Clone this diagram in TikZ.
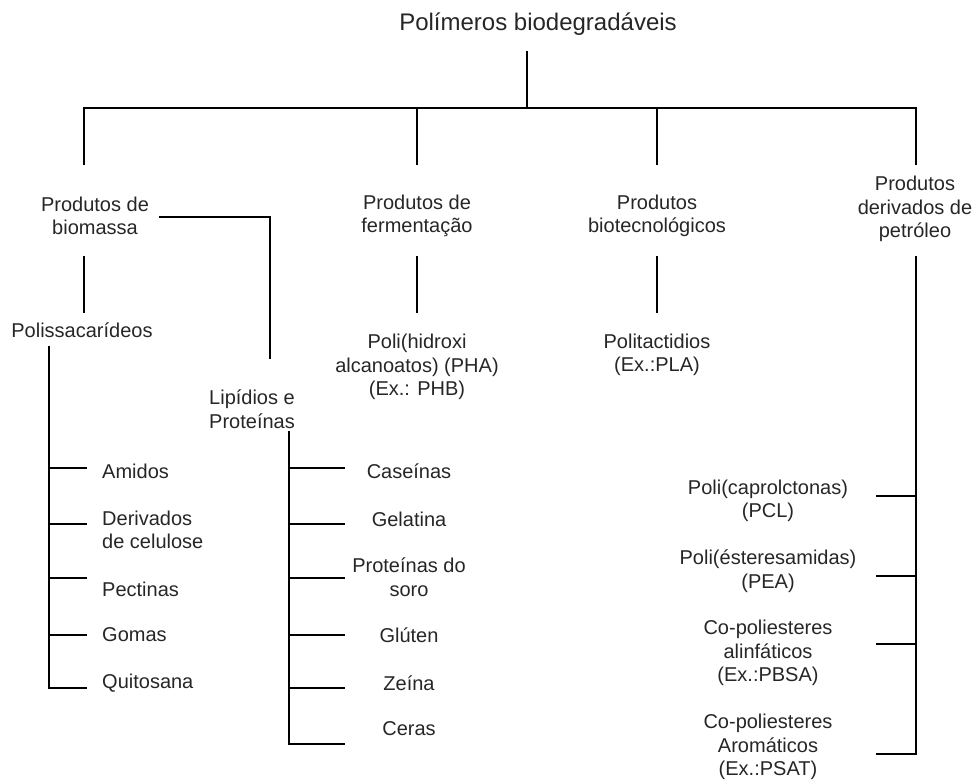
\documentclass[tikz,border=0pt]{standalone}
\usepackage{fontspec}
\setmainfont{Liberation Sans}
\tikzstyle{ttl}=[inner sep=0,text=black!85,font=\fontsize{24}{28}\selectfont]
\tikzstyle{lbl}=[inner sep=0,align=center,text=black!85,font=\fontsize{20}{23.5}\selectfont]
\tikzstyle{leaf}=[lbl,anchor=west,align=left]
\tikzstyle{wire}=[line width=1.8pt,line cap=rect]

\begin{document}
\begin{tikzpicture}[x=1pt,y=-1pt]
\useasboundingbox (0,0) rectangle (976,782);

% title and main bar
\node[ttl] (title) at (538,24) {Polímeros biodegradáveis};
\coordinate (title-out) at (527,52);
\coordinate (hub) at (527,108);
\coordinate (bar-l) at (84,108);
\coordinate (bar-r) at (916,108);
\draw[wire] (title-out)--(hub);
\draw[wire] (bar-l)--(bar-r);

% four groups
\node[lbl] (bio) at (95,216) {Produtos de\\biomassa};
\node[lbl] (ferm) at (417,216) {Produtos de\\fermentação};
\node[lbl] (biot) at (657,216) {Produtos\\biotecnológicos};
\node[lbl] (petr) at (915,209) {Produtos\\derivados de\\petróleo};
\foreach \x/\n in {84/bio,417/ferm,657/biot,916/petr}{
	\coordinate (\n-in) at (\x,164);
	\draw[wire] (\n-in |- hub)--(\n-in);}

% second level
\node[lbl] (polis) at (82,330) {Polissacarídeos};
\node[lbl] (pha) at (417,367) {Poli(hidroxi\\alcanoatos) (PHA)\\(Ex.: PHB)};
\node[lbl] (pla) at (657,355) {Politactidios\\(Ex.:PLA)};
\node[lbl] (lip) at (252,409) {Lipídios e\\Proteínas};
\foreach \x/\n in {84/bio,417/ferm,657/biot}{
	\coordinate (\n-out) at (\x,257);
	\coordinate (\n-down) at (\x,312);
	\draw[wire] (\n-out)--(\n-down);}
\coordinate (bio-side) at (160,217);
\coordinate (bio-corner) at (270,217);
\coordinate (lip-in) at (270,358);
\draw[wire] (bio-side)--(bio-corner)--(lip-in);

% polissacarideos
\coordinate (polis-out) at (49,347);
\foreach \ly/\ty/\n/\t in {468/471/am/Amidos,524/530/cel/{Derivados\\de celulose},578/589/pec/Pectinas,635/635/gom/Gomas,688/683/qui/Quitosana}{
	\node[leaf] (\n) at (102,\ty) {\t};
	\coordinate (\n-a) at (49,\ly);
	\coordinate (\n-b) at (86,\ly);
	\draw[wire] (\n-a)--(\n-b);}
\draw[wire] (polis-out)--(qui-a);

% lipidios e proteinas
\coordinate (lip-out) at (289,432);
\foreach \ly/\ty/\n/\t in {468/471/cas/Caseínas,524/519/gel/Gelatina,578/577/sor/{Proteínas do\\soro},635/635/glu/Glúten,688/683/zei/Zeína,744/729/cer/Ceras}{
	\node[lbl] (\n) at (409,\ty) {\t};
	\coordinate (\n-a) at (289,\ly);
	\coordinate (\n-b) at (344,\ly);
	\draw[wire] (\n-a)--(\n-b);}
\draw[wire] (lip-out)--(cer-a);

% petroleo
\coordinate (petr-out) at (916,257);
\foreach \ly/\ty/\n/\t in {496/501/pcl/{Poli(caprolctonas)\\(PCL)},576/571/pea/{Poli(ésteresamidas)\\(PEA)},644/653/pbsa/{Co-poliesteres\\alinfáticos\\(Ex.:PBSA)},754/747/psat/{Co-poliesteres\\Aromáticos\\(Ex.:PSAT)}}{
	\node[lbl] (\n) at (768,\ty) {\t};
	\coordinate (\n-a) at (916,\ly);
	\coordinate (\n-b) at (877,\ly);
	\draw[wire] (\n-a)--(\n-b);}
\draw[wire] (petr-out)--(psat-a);
\end{tikzpicture}
\end{document}
